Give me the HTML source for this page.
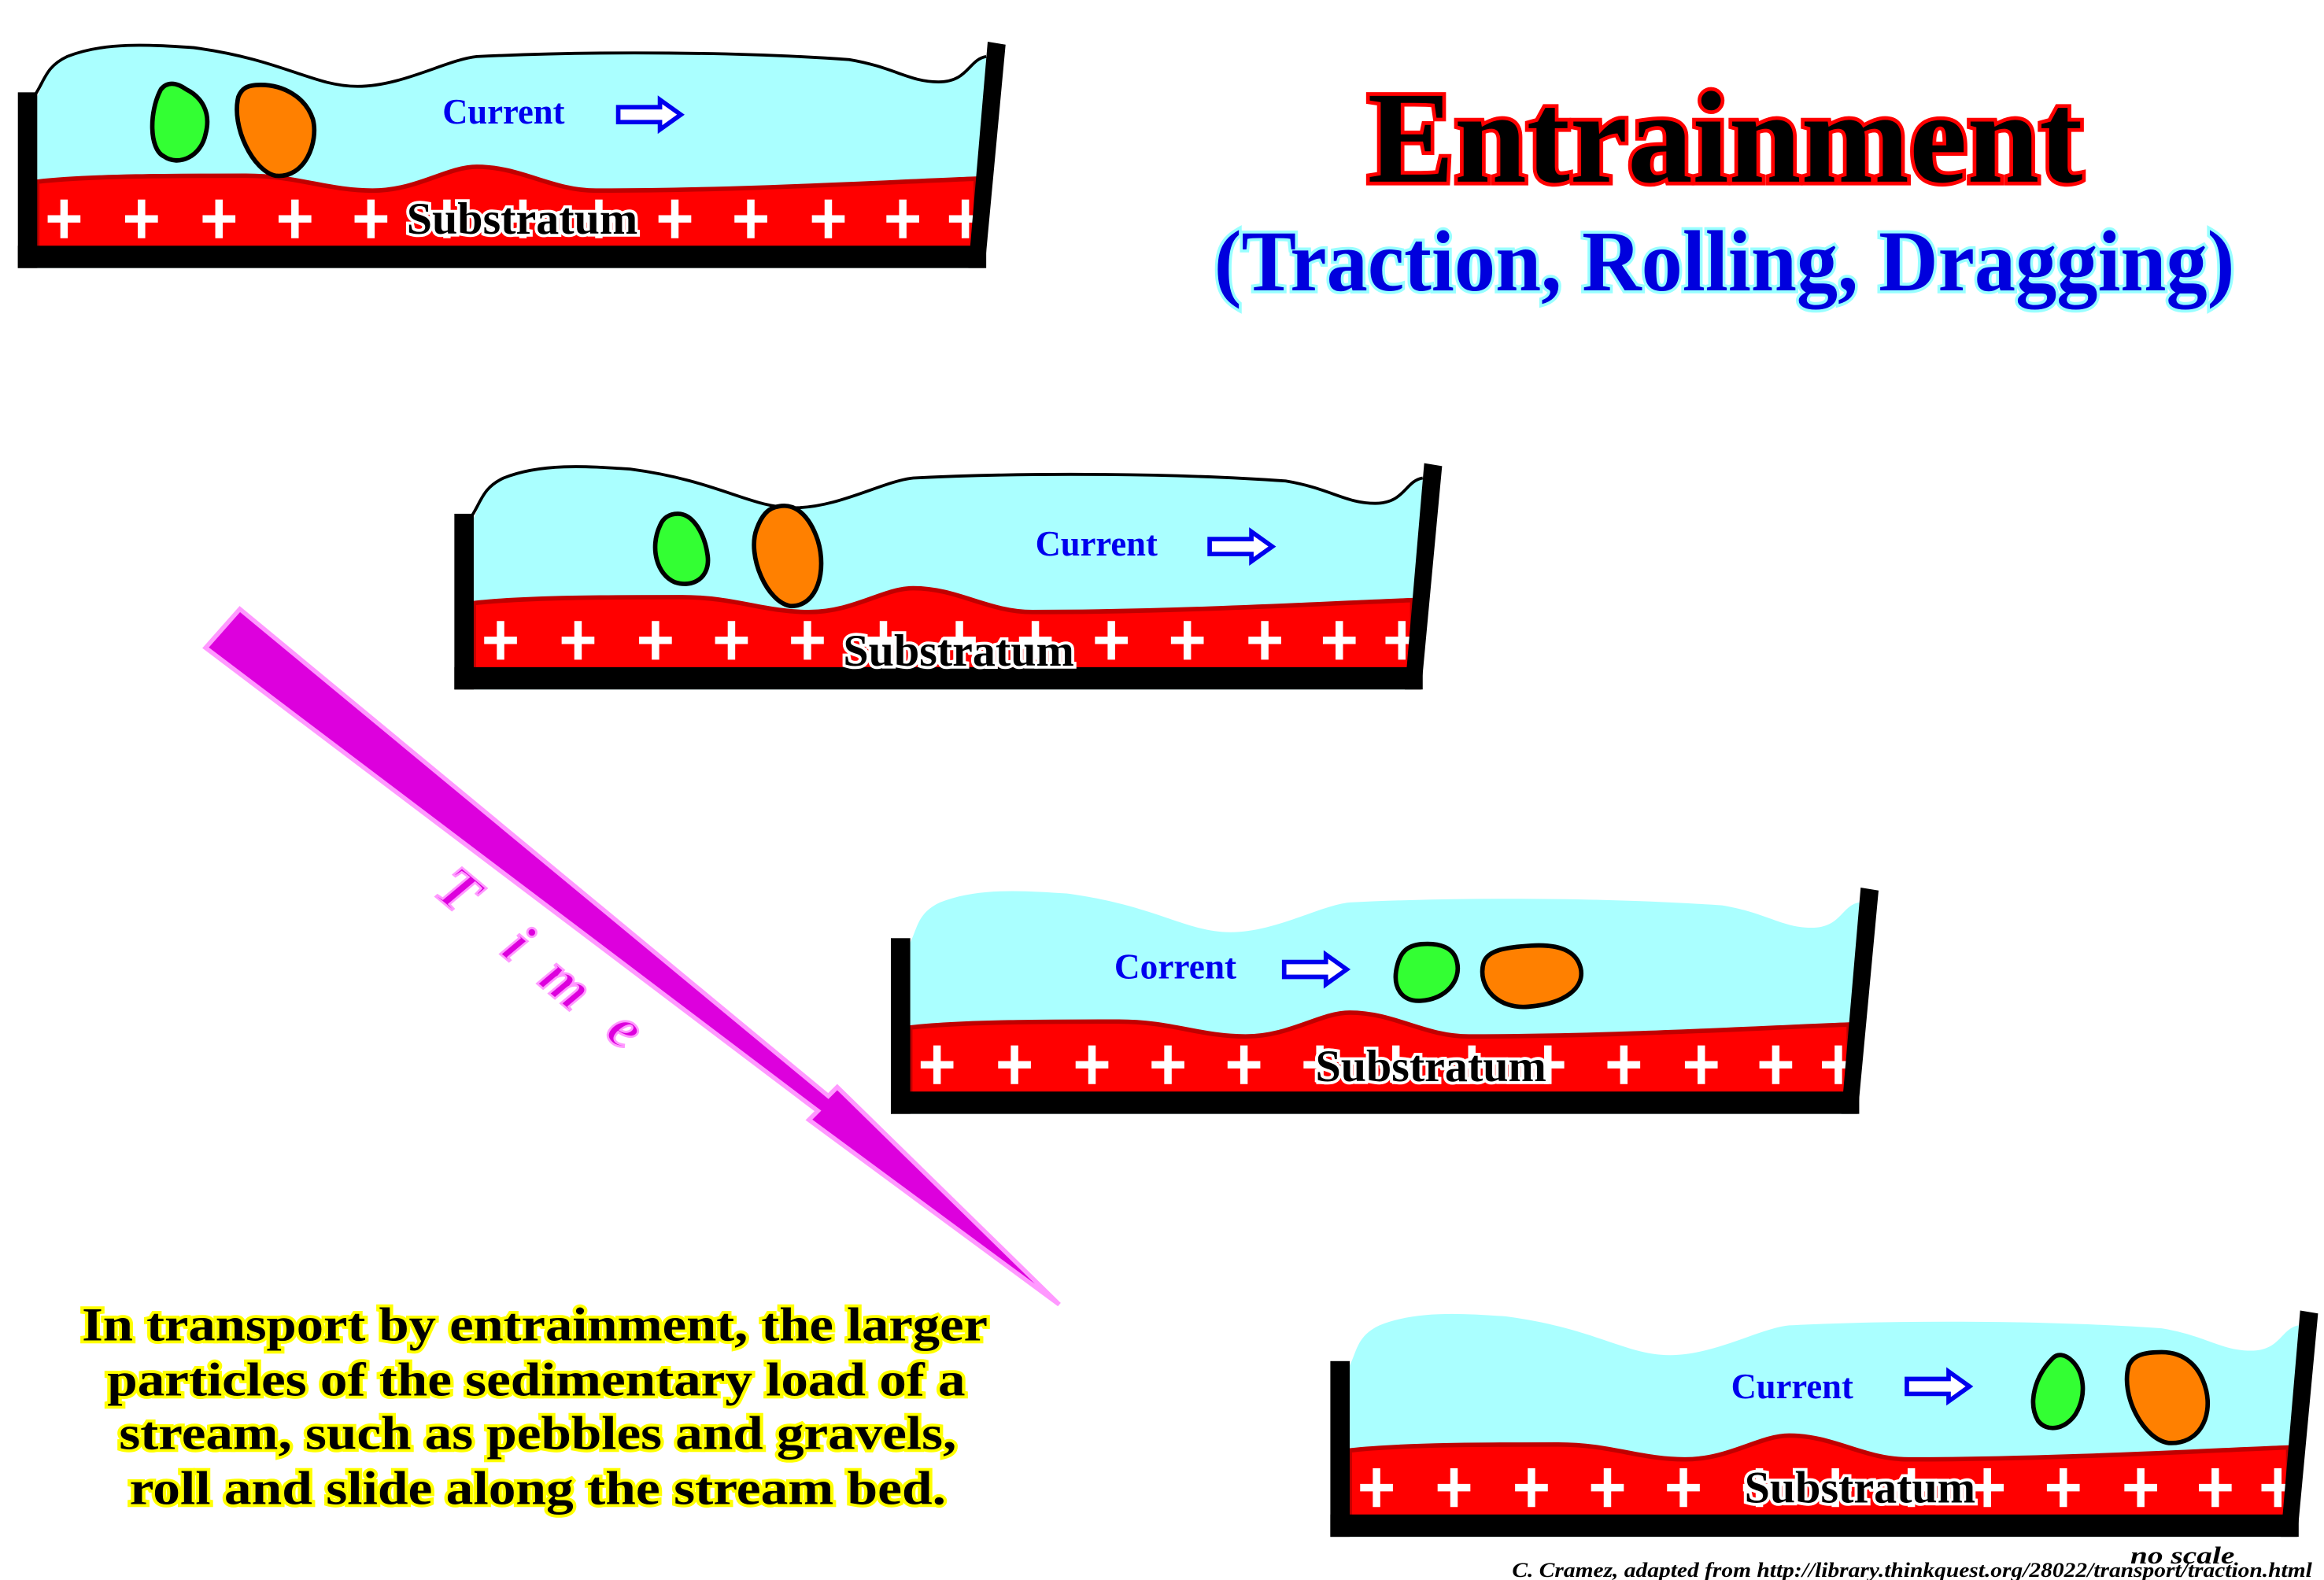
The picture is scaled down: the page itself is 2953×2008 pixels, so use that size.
<!DOCTYPE html>
<html><head><meta charset="utf-8"><style>html,body{margin:0;padding:0;background:#fff}svg{display:block}</style></head>
<body>
<svg width="2953" height="2008" viewBox="0 0 1560 1061" preserveAspectRatio="none" xmlns="http://www.w3.org/2000/svg" font-family="'Liberation Serif', serif">
<defs>
  <g id="plus">
    <path d="M-11,0 H11 M0,-13 V13" stroke="#fff" stroke-width="5"/>
  </g>
  <path id="topline" d="M22,66 C30,55 30,45 45,38 C70,28 100,30 130,32 C190,40 210,58 240,58 C270,58 300,40 320,38 C400,34 500,35 570,40 C600,45 610,55 630,55 C650,55 650,40 662,38" fill="none" stroke="#000" stroke-width="2"/>
  <g id="panel">
    <path d="M25,65 C30,55 30,45 45,38 C70,28 100,30 130,32 C190,40 210,58 240,58 C270,58 300,40 320,38 C400,34 500,35 570,40 C600,45 610,55 630,55 C650,55 650,40 662,38 L655,180 L25,180 Z" fill="#aaffff"/>
    <path d="M25,122 C60,118 120,118 165,118 C200,118 220,128 250,128 C280,128 300,112 320,112 C350,112 370,128 400,128 C500,128 600,122 655,120 L655,168 L25,168 Z" fill="#ff0000" stroke="#c00000" stroke-width="3"/>
    <use href="#plus" x="43" y="147"/><use href="#plus" x="95" y="147"/><use href="#plus" x="147" y="147"/><use href="#plus" x="198" y="147"/><use href="#plus" x="249" y="147"/><use href="#plus" x="300" y="147"/><use href="#plus" x="351" y="147"/><use href="#plus" x="402" y="147"/><use href="#plus" x="453" y="147"/><use href="#plus" x="504" y="147"/><use href="#plus" x="556" y="147"/><use href="#plus" x="606" y="147"/><use href="#plus" x="648" y="147"/>
    <rect x="12" y="165" width="650" height="15" fill="#000"/>
    <rect x="12" y="62" width="13" height="118" fill="#000"/>
    <polygon points="663,28 675,30 661,180 650,180" fill="#000"/>
  </g>
  <g id="arrow">
    <path d="M0,-5 H28 V-10 L42,0 L28,10 V5 H0 Z" fill="#fff" stroke="#0000ee" stroke-width="3"/>
  </g>
</defs>

<!-- Panel 1 -->
<g>
  <use href="#panel"/>
  <use href="#topline"/>
  <path d="M108,60 C100,75 100,100 110,105 C120,112 135,105 138,90 C142,75 135,65 125,60 C118,55 112,55 108,60 Z" fill="#33ff33" stroke="#000" stroke-width="3"/>
  <path d="M160,65 C155,85 170,115 185,118 C205,120 214,95 210,80 C205,65 190,57 175,57 C165,57 162,60 160,65 Z" fill="#ff8000" stroke="#000" stroke-width="3"/>
  <text x="297" y="83" font-size="24" font-weight="bold" fill="#0000ee" textLength="82" lengthAdjust="spacingAndGlyphs">Current</text>
  <use href="#arrow" x="415" y="77"/>
  <text x="273" y="157" font-size="30" font-weight="bold" fill="#000" stroke="#fff" stroke-width="4" paint-order="stroke" textLength="155" lengthAdjust="spacingAndGlyphs">Substratum</text>
</g>

<!-- Panel 2 -->
<g transform="translate(293,283)">
  <use href="#panel"/>
  <use href="#topline"/>
  <path d="M150,70 C143,85 148,103 160,108 C172,112 184,105 182,90 C180,75 172,62 162,62 C156,62 152,65 150,70 Z" fill="#33ff33" stroke="#000" stroke-width="3"/>
  <path d="M215,72 C208,90 222,122 238,124 C256,124 262,100 256,80 C250,62 240,55 230,57 C222,58 218,64 215,72 Z" fill="#ff8000" stroke="#000" stroke-width="3"/>
  <text x="402" y="90" font-size="24" font-weight="bold" fill="#0000ee" textLength="82" lengthAdjust="spacingAndGlyphs">Current</text>
  <use href="#arrow" x="519" y="84"/>
  <text x="273" y="164" font-size="30" font-weight="bold" fill="#000" stroke="#fff" stroke-width="4" paint-order="stroke" textLength="155" lengthAdjust="spacingAndGlyphs">Substratum</text>
</g>

<!-- Panel 3 -->
<g transform="translate(586,568)">
  <use href="#panel"/>
  <path d="M352,80 C348,95 355,105 368,104 C385,103 395,90 392,78 C390,68 380,65 368,66 C358,67 354,72 352,80 Z" fill="#33ff33" stroke="#000" stroke-width="3"/>
  <path d="M410,78 C405,95 420,110 440,108 C465,106 478,95 475,82 C472,70 460,66 442,67 C425,68 413,70 410,78 Z" fill="#ff8000" stroke="#000" stroke-width="3"/>
  <text x="162" y="89" font-size="24" font-weight="bold" fill="#0000ee" textLength="82" lengthAdjust="spacingAndGlyphs">Corrent</text>
  <use href="#arrow" x="276" y="83"/>
  <text x="297" y="158" font-size="30" font-weight="bold" fill="#000" stroke="#fff" stroke-width="4" paint-order="stroke" textLength="155" lengthAdjust="spacingAndGlyphs">Substratum</text>
</g>

<!-- Panel 4 -->
<g transform="translate(881,852)">
  <use href="#panel"/>
  <path d="M497,60 C485,72 480,90 487,102 C493,110 505,108 512,98 C520,85 518,70 510,62 C505,57 500,57 497,60 Z" fill="#33ff33" stroke="#000" stroke-width="3"/>
  <path d="M548,65 C542,85 558,115 575,117 C595,118 604,100 600,82 C596,65 585,56 570,56 C558,56 551,58 548,65 Z" fill="#ff8000" stroke="#000" stroke-width="3"/>
  <text x="281" y="87" font-size="24" font-weight="bold" fill="#0000ee" textLength="82" lengthAdjust="spacingAndGlyphs">Current</text>
  <use href="#arrow" x="399" y="79"/>
  <text x="290" y="157" font-size="30" font-weight="bold" fill="#000" stroke="#fff" stroke-width="4" paint-order="stroke" textLength="155" lengthAdjust="spacingAndGlyphs">Substratum</text>
</g>

<!-- Title -->
<text x="918" y="122" font-size="88" font-weight="bold" fill="#000" stroke="#ff0000" stroke-width="5" paint-order="stroke" textLength="480" lengthAdjust="spacingAndGlyphs">Entrainment</text>
<text x="815" y="195" font-size="58" font-weight="bold" fill="#0000dd" stroke="#99ffff" stroke-width="4" paint-order="stroke" textLength="685" lengthAdjust="spacingAndGlyphs">(Traction, Rolling, Dragging)</text>

<!-- Time arrow -->
<polygon points="138,435 161,409 556,736 562,730 711,876 543,752 549,746" fill="#dd00dd" stroke="#ff99ff" stroke-width="3" stroke-linejoin="miter"/>
<g font-size="40" font-weight="bold" font-style="italic" fill="#dd00dd" stroke="#ff99ff" stroke-width="1.5">
  <text transform="translate(290,600) rotate(40)">T</text>
  <text transform="translate(335,640) rotate(40)">i</text>
  <text transform="translate(360,660) rotate(40)">m</text>
  <text transform="translate(405,695) rotate(40)">e</text>
</g>

<!-- Bottom text -->
<g font-size="32" font-weight="bold" fill="#000" stroke="#ffff00" stroke-width="4" paint-order="stroke">
  <text x="55" y="900" textLength="608" lengthAdjust="spacingAndGlyphs">In transport by entrainment, the larger</text>
  <text x="72" y="937" textLength="576" lengthAdjust="spacingAndGlyphs">particles of the sedimentary load of a</text>
  <text x="80" y="973" textLength="562" lengthAdjust="spacingAndGlyphs">stream, such as pebbles and gravels,</text>
  <text x="87" y="1010" textLength="548" lengthAdjust="spacingAndGlyphs">roll and slide along the stream bed.</text>
</g>

<!-- Credits -->
<text x="1430" y="1050" font-size="16" font-weight="bold" font-style="italic" fill="#000" textLength="70" lengthAdjust="spacingAndGlyphs">no scale</text>
<text x="1015" y="1059" font-size="14" font-weight="bold" font-style="italic" fill="#000" textLength="537" lengthAdjust="spacingAndGlyphs">C. Cramez, adapted from http://library.thinkquest.org/28022/transport/traction.html</text>
</svg>
</body></html>
